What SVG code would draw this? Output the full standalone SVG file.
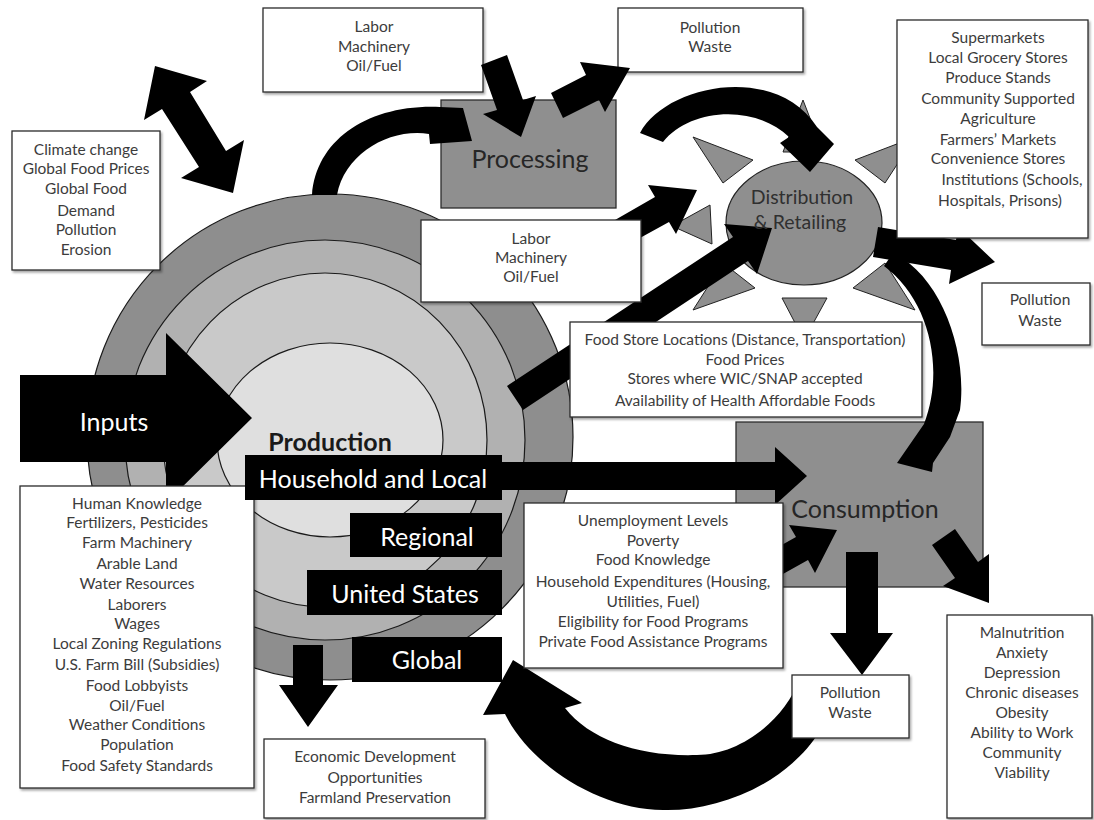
<svg xmlns="http://www.w3.org/2000/svg" width="1094" height="820" viewBox="0 0 1094 820">
<defs>
<filter id="shadow" x="-5%" y="-5%" width="115%" height="125%">
<feDropShadow dx="1.5" dy="2" stdDeviation="1" flood-color="#000" flood-opacity="0.35"/>
</filter>
<style>
.box{fill:#fff;stroke:#2b2b2b;stroke-width:1.3;filter:url(#shadow)}
.gbox{fill:#8f8f8f;stroke:#2b2b2b;stroke-width:1.3}
.tri{fill:#8f8f8f;stroke:#222;stroke-width:1}
.ring{stroke:#1a1a1a;stroke-width:1.2}
.arrow{fill:#000}
.blk{fill:#000}
text{font-family:Lato,"Open Sans","Liberation Sans",sans-serif}
.t{font-size:15.5px;fill:#3c3c3c;text-anchor:middle}
.big{font-size:25px;fill:#262626;text-anchor:middle}
.dist{font-size:19.5px;fill:#303030;text-anchor:middle}
.lbl{font-size:25px;fill:#fff;text-anchor:middle}
.inp{font-size:25px;fill:#fff;text-anchor:middle}
.prod{font-size:25px;font-weight:bold;fill:#1a1a1a;text-anchor:middle}
</style>
</defs>
<rect width="1094" height="820" fill="#fff"/>

<g id="production">
<ellipse class="ring" cx="330" cy="437" rx="243" ry="243" fill="#8e8e8e"/>
<circle class="ring" cx="325" cy="440" r="200" fill="#b1b1b1"/>
<ellipse class="ring" cx="325" cy="440" rx="162" ry="167" fill="#c9c9c9"/>
<ellipse class="ring" cx="330" cy="440" rx="113" ry="97" fill="#dfdfdf"/>
</g>

<g id="distribution">
<polygon class="tri" points="803,100 783,152 823,152"/>
<polygon class="tri" points="693,137 753,160 723,183"/>
<polygon class="tri" points="915,137 855,160 885,183"/>
<polygon class="tri" points="672,226 710,205 712,244"/>
<polygon class="tri" points="693,310 723,263 755,288"/>
<polygon class="tri" points="782,298 827,298 804,340"/>
<polygon class="tri" points="853,288 885,263 915,310"/>
<ellipse cx="804" cy="223" rx="78" ry="62" fill="#8f8f8f" stroke="#222" stroke-width="1.2"/>
</g>

<g id="consumption">
<rect class="gbox" x="736" y="422" width="247" height="165"/>
<text class="big" x="865" y="518">Consumption</text>
</g>

<g id="processing">
<rect class="gbox" x="441" y="100" width="175" height="108"/>
<text class="big" x="530" y="168">Processing</text>
</g>

<g id="processing-inputs">
<rect class="box" x="263" y="8" width="220" height="84"/>
<text class="t" x="374" y="32">Labor</text>
<text class="t" x="374" y="52">Machinery</text>
<text class="t" x="374" y="71">Oil/Fuel</text>
</g>

<g id="processing-pollution">
<rect class="box" x="618" y="8" width="185" height="64"/>
<text class="t" x="710" y="33">Pollution</text>
<text class="t" x="710" y="52">Waste</text>
</g>

<g id="connectors">
<polygon class="arrow" points="155,66 144,120 162,109 199,167 181,178 233,193 244,140 226,151 190,92 207,81"/>
<path class="arrow" d="M312,195 C316,140 368,104 440,107 L463,108 L472,141 L430,144 L429,134 C390,128 345,153 337,195 Z"/>
<polygon class="arrow" points="481,65 497,110 483,114 521,137 536,96 523,100 507,55"/>
<polygon class="arrow" points="563,118 599,100 605,112 630,68 580,62 586,75 551,93"/>
<path class="arrow" d="M640,133 C665,85 775,62 817,127 L834,144 L810,172 L780,143 L789,137 C755,104 690,108 663,142 Z"/>
<polygon class="arrow" points="629,244 669,222 676,234 697,190 648,185 655,197 615,220"/>
<polygon class="arrow" points="523,410 748,261 757,274 772,228 724,224 733,237 507,386"/>
<polygon class="arrow" points="873,257 951,270 949,284 995,262 958,227 956,240 878,227"/>
<path class="arrow" d="M893,253 C940,275 968,350 960,410 L950,437 L933,463 L932,472 L897,463 L924,424 C945,370 930,300 884,266 Z"/>
<polygon class="arrow" points="20,375 166,375 166,333 252,418 166,503 166,462 20,462"/>
<polygon class="arrow" points="495,462 775,462 775,447 807,476 775,505 775,490 495,490"/>
<polygon class="arrow" points="774,579 808,560 815,573 837,530 789,525 796,537 762,556"/>
<polygon class="arrow" points="846,552 878,552 878,633 893,633 862,675 830,633 846,633"/>
<polygon class="arrow" points="932,545 955,578 943,586 989,603 989,554 978,562 955,529"/>
<path class="arrow" d="M836,690 C820,770 730,812 663,810 C600,810 530,765 505,714 L483,715 L513,660 L582,703 L565,708 C590,740 640,757 697,755 C740,755 785,720 800,678 Z"/>
<polygon class="arrow" points="293,645 323,645 323,685 338,685 308,727 279,685 293,685"/>
</g>

<g id="distribution-label">
<text class="dist" x="802" y="204">Distribution</text>
<text class="dist" x="800" y="229">&amp; Retailing</text>
</g>

<g id="global-factors">
<rect class="box" x="12" y="131" width="148" height="139"/>
<text class="t" x="86" y="155">Climate change</text>
<text class="t" x="86" y="174">Global Food Prices</text>
<text class="t" x="86" y="194">Global Food</text>
<text class="t" x="86" y="216">Demand</text>
<text class="t" x="86" y="235">Pollution</text>
<text class="t" x="86" y="255">Erosion</text>
</g>

<g id="distribution-inputs">
<rect class="box" x="421" y="220" width="220" height="82"/>
<text class="t" x="531" y="244">Labor</text>
<text class="t" x="531" y="263">Machinery</text>
<text class="t" x="531" y="282">Oil/Fuel</text>
</g>

<g id="retail-outlets">
<rect class="box" x="897" y="20" width="191" height="218"/>
<text class="t" x="998" y="43">Supermarkets</text>
<text class="t" x="998" y="63">Local Grocery Stores</text>
<text class="t" x="998" y="83">Produce Stands</text>
<text class="t" x="998" y="104">Community Supported</text>
<text class="t" x="998" y="124">Agriculture</text>
<text class="t" x="998" y="145">Farmers’ Markets</text>
<text class="t" x="998" y="164">Convenience Stores</text>
<text class="t" x="1012" y="185">Institutions (Schools,</text>
<text class="t" x="1000" y="206">Hospitals, Prisons)</text>
</g>

<g id="distribution-pollution">
<rect class="box" x="982" y="283" width="108" height="62"/>
<text class="t" x="1040" y="305">Pollution</text>
<text class="t" x="1040" y="326">Waste</text>
</g>

<g id="food-access">
<rect class="box" x="570" y="322" width="352" height="95"/>
<text class="t" x="745" y="345">Food Store Locations (Distance, Transportation)</text>
<text class="t" x="745" y="365">Food Prices</text>
<text class="t" x="745" y="384">Stores where WIC/SNAP accepted</text>
<text class="t" x="745" y="406">Availability of Health Affordable Foods</text>
</g>

<g id="household-factors">
<rect class="box" x="524" y="503" width="259" height="165"/>
<text class="t" x="653" y="526">Unemployment Levels</text>
<text class="t" x="653" y="546">Poverty</text>
<text class="t" x="653" y="565">Food Knowledge</text>
<text class="t" x="653" y="587">Household Expenditures (Housing,</text>
<text class="t" x="653" y="607">Utilities, Fuel)</text>
<text class="t" x="653" y="627">Eligibility for Food Programs</text>
<text class="t" x="653" y="647">Private Food Assistance Programs</text>
</g>

<g id="consumption-pollution">
<rect class="box" x="792" y="675" width="117" height="63"/>
<text class="t" x="850" y="698">Pollution</text>
<text class="t" x="850" y="718">Waste</text>
</g>

<g id="health-outcomes">
<rect class="box" x="947" y="615" width="145" height="203"/>
<text class="t" x="1022" y="638">Malnutrition</text>
<text class="t" x="1022" y="658">Anxiety</text>
<text class="t" x="1022" y="678">Depression</text>
<text class="t" x="1022" y="698">Chronic diseases</text>
<text class="t" x="1022" y="718">Obesity</text>
<text class="t" x="1022" y="738">Ability to Work</text>
<text class="t" x="1022" y="758">Community</text>
<text class="t" x="1022" y="778">Viability</text>
</g>

<g id="economic">
<rect class="box" x="264" y="739" width="221" height="79"/>
<text class="t" x="375" y="762">Economic Development</text>
<text class="t" x="375" y="783">Opportunities</text>
<text class="t" x="375" y="803">Farmland Preservation</text>
</g>

<g id="input-list">
<rect class="box" x="20" y="486" width="234" height="302"/>
<text class="t" x="137" y="509">Human Knowledge</text>
<text class="t" x="137" y="528">Fertilizers, Pesticides</text>
<text class="t" x="137" y="548">Farm Machinery</text>
<text class="t" x="137" y="569">Arable Land</text>
<text class="t" x="137" y="589">Water Resources</text>
<text class="t" x="137" y="610">Laborers</text>
<text class="t" x="137" y="629">Wages</text>
<text class="t" x="137" y="649">Local Zoning Regulations</text>
<text class="t" x="137" y="670">U.S. Farm Bill (Subsidies)</text>
<text class="t" x="137" y="691">Food Lobbyists</text>
<text class="t" x="137" y="711">Oil/Fuel</text>
<text class="t" x="137" y="730">Weather Conditions</text>
<text class="t" x="137" y="750">Population</text>
<text class="t" x="137" y="771">Food Safety Standards</text>
</g>

<g id="inputs-label">
<text class="inp" x="114" y="431">Inputs</text>
</g>

<g id="production-label">
<text class="prod" x="330" y="451">Production</text>
</g>

<g id="level-household">
<rect class="blk" x="245" y="455" width="257" height="45"/>
<text class="lbl" x="373" y="488">Household and Local</text>
</g>
<g id="level-regional">
<rect class="blk" x="350" y="513" width="152" height="44"/>
<text class="lbl" x="427" y="546">Regional</text>
</g>
<g id="level-us">
<rect class="blk" x="307" y="570" width="195" height="45"/>
<text class="lbl" x="405" y="603">United States</text>
</g>
<g id="level-global">
<rect class="blk" x="352" y="637" width="150" height="45"/>
<text class="lbl" x="427" y="669">Global</text>
</g>
</svg>
